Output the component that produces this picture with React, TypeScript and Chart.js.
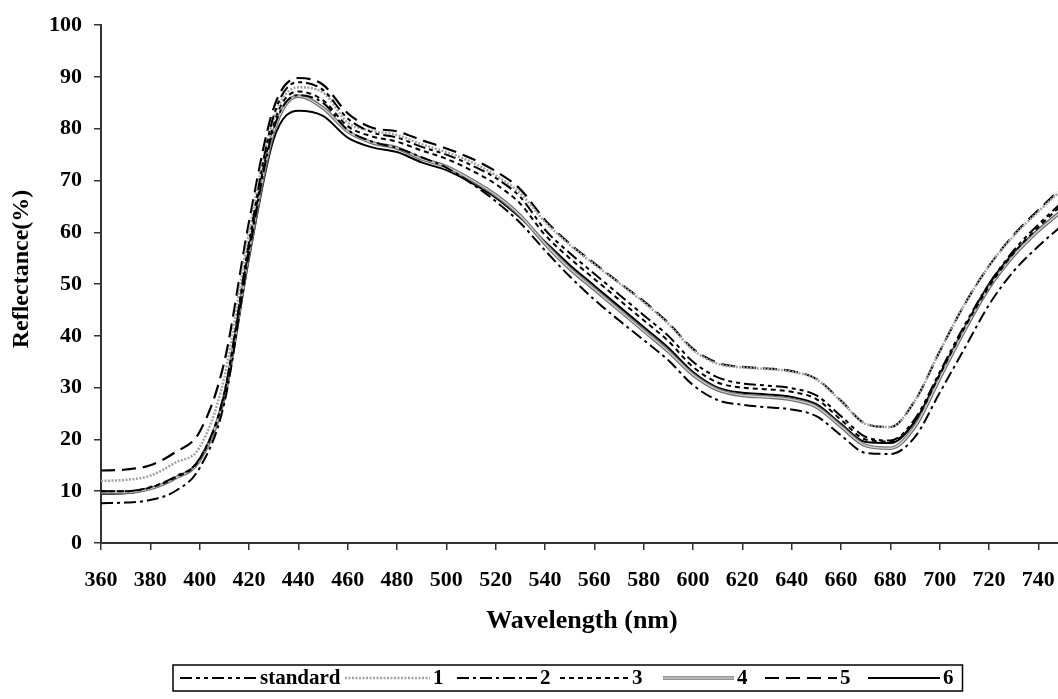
import React, { useEffect, useRef } from "react";
import { Chart, registerables } from "chart.js";

Chart.register(...registerables);

// Wavelength grid (nm)
const wavelengths = [
  360, 370, 380, 390, 400, 410, 420, 430, 440, 450, 460, 470, 480, 490, 500, 510, 520, 530, 540, 550,
  560, 570, 580, 590, 600, 610, 620, 630, 640, 650, 660, 670, 680, 690, 700, 710, 720, 730, 740, 750,
];

// x tick labels (nm)
const xTickValues = [
  360, 380, 400, 420, 440, 460, 480, 500, 520, 540, 560, 580, 600, 620, 640, 660, 680, 700, 720, 740,
];

// Reflectance (%) per sample
const standard = [
  10, 10, 10.8, 12.8, 16.3, 29, 58, 82.5, 89, 87.5, 82, 79.3, 78.3, 76.5, 75, 73, 70.5, 66.8, 60.5, 56,
  52, 48, 44, 40, 35, 32, 30.8, 30.4, 29.9, 28.5, 24.5, 20.5, 19.8, 24, 33, 42, 50, 56.5, 61.5, 66,
];
const sample1 = [
  12, 12.2, 13, 15.5, 18.5, 32, 60, 82, 88, 87, 81.2, 79.6, 78.8, 77, 75.5, 73.6, 71, 67.5, 62, 57.6,
  53.8, 50.2, 46.5, 42.3, 37.3, 34.6, 33.9, 33.6, 33.1, 31.6, 27.4, 23, 22.4, 27.5, 37, 46, 53.5, 59.3, 64, 68.5,
];
const sample2 = [
  7.7, 7.8, 8.3, 10, 14.5, 27, 56, 80, 86.5, 85, 79.8, 77.5, 76.3, 74.5, 72.5, 69.5, 66, 61.8, 56.5, 51.5,
  47, 43, 39.2, 35.3, 30.5, 27.6, 26.7, 26.2, 25.8, 24.5, 20.8, 17.4, 17.2, 20.5, 29, 37.5, 46, 52.5, 57.3, 61.5,
];
const sample3 = [
  10, 10, 10.7, 12.6, 16.2, 28.7, 57, 81, 87.2, 85.5, 80.5, 78.5, 77.5, 75.8, 74.2, 72, 69.3, 65.5, 59.5, 55,
  51, 47, 43, 39, 34, 31, 30, 29.7, 29.2, 27.8, 23.8, 20, 19.6, 23.5, 32.5, 41.5, 49.5, 56, 61, 65.5,
];
const sample4 = [
  9.8, 9.8, 10.5, 12.5, 16, 28.3, 56, 79.5, 86.3, 84, 79.5, 77.3, 76.3, 74.2, 72.7, 70.2, 67.2, 63.2, 57.8, 53,
  49, 45, 41, 37, 32.5, 29.6, 28.5, 28.2, 27.7, 26.3, 22.5, 18.8, 18.3, 22.5, 31.8, 41, 49.3, 55.5, 60.3, 64.3,
];
const sample5 = [
  14, 14.2, 15, 17.5, 21.5, 35, 62, 84, 89.8, 88.5, 83, 80.2, 79.5, 77.8, 76.2, 74.3, 71.8, 68.3, 62.4, 57.8,
  54, 50.3, 46.7, 42.5, 37.5, 34.8, 34, 33.7, 33.2, 31.7, 27.5, 23, 22.4, 27.5, 37, 46, 53.5, 59.5, 64.3, 68.8,
];
const sample6 = [
  9.5, 9.6, 10.5, 12.5, 16, 28, 55, 78, 83.5, 82.5, 78.3, 76.4, 75.5, 73.5, 72, 69.6, 66.7, 62.8, 58.2, 53.7,
  49.7, 45.7, 41.7, 37.7, 33, 30, 29, 28.7, 28.2, 26.8, 23, 19.5, 19.3, 23.5, 32.5, 41.5, 50, 56, 60.5, 64.5,
];

const seriesLabels = ["standard", "1", "2", "3", "4", "5", "6"];
const seriesValues = [standard, sample1, sample2, sample3, sample4, sample5, sample6];

const xTitle = "Wavelength (nm)";
const yTitle = "Reflectance(%)";

const FONT = '"Liberation Serif", "Times New Roman", Times, serif';

const lineStyles = [
  { color: "#000000", width: 2, dash: [12, 4, 4, 4, 4, 4] },
  { color: "#a2a2a2", width: 2.5, dash: [2, 1.5] },
  { color: "#000000", width: 2, dash: [12, 4, 3, 4] },
  { color: "#000000", width: 2, dash: [5, 4] },
  { color: "#6f6f6f", width: 3.6, dash: [] },
  { color: "#000000", width: 2.2, dash: [14, 7] },
  { color: "#000000", width: 2, dash: [] },
];

// legend layout (pixels)
const legendStarts = [180, 345, 457, 560, 663, 765, 868];
const legendLens = [77, 85, 80, 69, 71, 72, 72];
const legendBox = { left: 173, top: 665, bottom: 691 };

function strokeSample(ctx: CanvasRenderingContext2D, ds: any, i: number, x0: number, x1: number, y: number) {
  ctx.strokeStyle = ds.borderColor;
  ctx.lineWidth = ds.borderWidth;
  ctx.setLineDash(ds.borderDash || []);
  ctx.beginPath();
  ctx.moveTo(x0, y);
  ctx.lineTo(x1, y);
  ctx.stroke();
  ctx.setLineDash([]);
  if (i === 4) {
    ctx.strokeStyle = "#cfcfcf";
    ctx.lineWidth = 1.3;
    ctx.beginPath();
    ctx.moveTo(x0, y);
    ctx.lineTo(x1, y);
    ctx.stroke();
  }
}

const boxLegend = {
  id: "boxLegend",
  afterDatasetDraw(chart: any, args: any) {
    // inner light core for the double-line series "4"
    if (args.index !== 4) return;
    const ctx = chart.ctx as CanvasRenderingContext2D;
    const area = chart.chartArea;
    ctx.save();
    ctx.beginPath();
    ctx.rect(area.left, area.top, area.right - area.left, area.bottom - area.top);
    ctx.clip();
    ctx.beginPath();
    args.meta.dataset.path(ctx);
    ctx.strokeStyle = "#cfcfcf";
    ctx.lineWidth = 1.3;
    ctx.lineJoin = "round";
    ctx.stroke();
    ctx.restore();
  },
  afterDraw(chart: any) {
    const ctx = chart.ctx as CanvasRenderingContext2D;
    ctx.save();
    // y-axis title
    ctx.fillStyle = "#000";
    ctx.font = `bold 24px ${FONT}`;
    ctx.textAlign = "center";
    ctx.textBaseline = "middle";
    ctx.translate(22, 269);
    ctx.rotate(-Math.PI / 2);
    ctx.fillText(yTitle, 0, 0);
    ctx.setTransform(1, 0, 0, 1, 0, 0);

    // legend
    const cy = (legendBox.top + legendBox.bottom) / 2;
    ctx.font = `bold 21px ${FONT}`;
    ctx.textBaseline = "middle";
    ctx.textAlign = "left";
    let right = legendBox.left;
    chart.data.datasets.forEach((ds: any, i: number) => {
      const x0 = legendStarts[i];
      const len = legendLens[i];
      strokeSample(ctx, ds, i, x0, x0 + len, cy);
      ctx.fillStyle = "#000";
      const tx = x0 + len + 3;
      ctx.fillText(ds.label, tx, cy + 1);
      right = tx + ctx.measureText(ds.label).width;
    });
    ctx.strokeStyle = "#000";
    ctx.lineWidth = 1.5;
    ctx.strokeRect(legendBox.left, legendBox.top, right + 9 - legendBox.left, legendBox.bottom - legendBox.top);
    ctx.restore();
  },
};

export default function App() {
  const ref = useRef<HTMLCanvasElement>(null);

  useEffect(() => {
    const datasets = seriesLabels.map((label, i) => ({
      label,
      data: wavelengths.map((w, j) => ({ x: w, y: seriesValues[i][j] })),
      borderColor: lineStyles[i].color,
      borderWidth: lineStyles[i].width,
      borderDash: lineStyles[i].dash,
      pointRadius: 0,
      fill: false,
      cubicInterpolationMode: "monotone" as const,
    }));

    const tickFont = { family: FONT, size: 22, weight: "bold" as const };
    const titleFont = { family: FONT, size: 26, weight: "bold" as const };

    const chart = new Chart(ref.current!, {
      type: "line",
      data: { datasets },
      plugins: [boxLegend],
      options: {
        responsive: false,
        animation: false,
        layout: { padding: { top: 24, right: 12, left: 0, bottom: 0 } },
        plugins: { legend: { display: false }, tooltip: { enabled: false } },
        scales: {
          x: {
            type: "linear",
            min: 360,
            max: 750,
            afterBuildTicks: (s: any) => {
              s.ticks = xTickValues.map((v) => ({ value: v }));
            },
            afterFit: (s: any) => {
              s.height = 156;
            },
            ticks: {
              font: tickFont,
              color: "#000",
              padding: 17,
              maxRotation: 0,
              autoSkip: false,
            },
            grid: {
              display: true,
              drawOnChartArea: false,
              drawTicks: true,
              tickLength: 7,
              color: "#333",
              lineWidth: 1.5,
            },
            border: { display: true, color: "#333", width: 2 },
            title: {
              display: true,
              text: xTitle,
              font: titleFont,
              color: "#000",
              padding: { top: 0, bottom: 62 },
            },
          },
          y: {
            type: "linear",
            min: 0,
            max: 100,
            afterFit: (s: any) => {
              s.width = 101;
            },
            ticks: { stepSize: 10, font: tickFont, color: "#000", padding: 12 },
            grid: {
              display: true,
              drawOnChartArea: false,
              drawTicks: true,
              tickLength: 7,
              color: "#333",
              lineWidth: 1.5,
            },
            border: { display: true, color: "#333", width: 2 },
            title: { display: false, text: yTitle },
          },
        },
      },
    });
    return () => chart.destroy();
  }, []);

  return (
    <div
      style={{
        position: "fixed",
        left: 0,
        top: 0,
        width: 1058,
        height: 699,
        overflow: "hidden",
        background: "#fff",
      }}
    >
      <canvas ref={ref} width={1075} height={699} style={{ display: "block" }} />
    </div>
  );
}
